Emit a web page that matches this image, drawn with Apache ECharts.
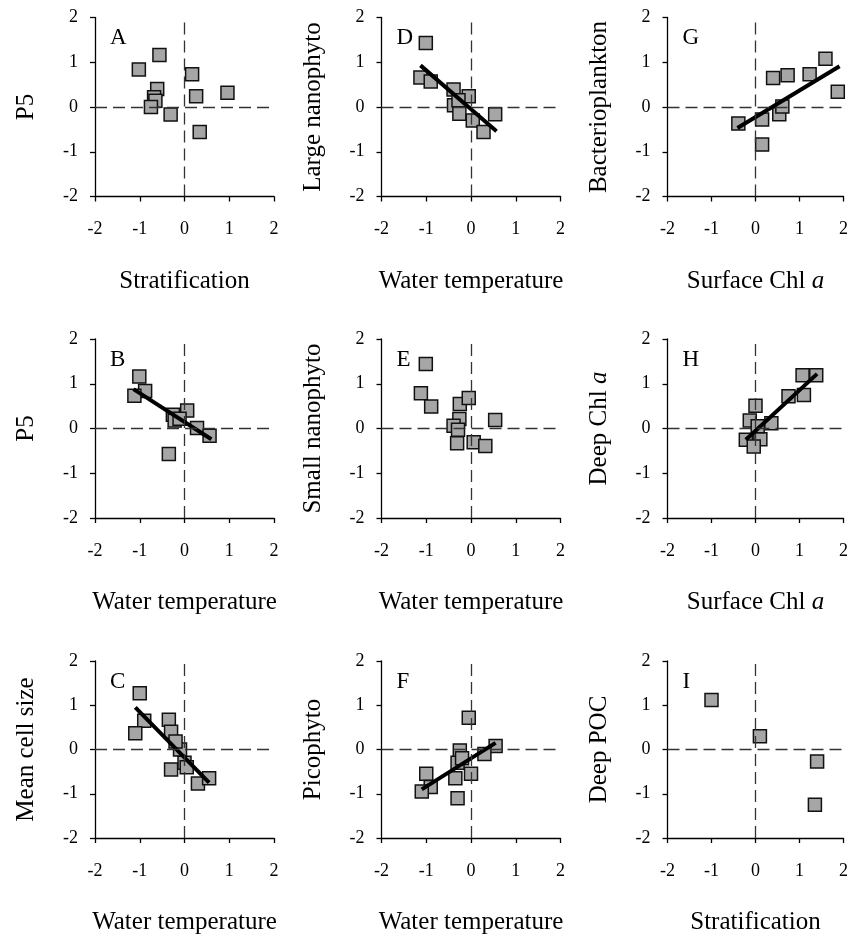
<!DOCTYPE html>
<html><head><meta charset="utf-8">
<script src="https://cdn.jsdelivr.net/npm/echarts@6/dist/echarts.min.js"></script>
<style>html,body{margin:0;padding:0;background:#fff}#c{width:851px;height:936px}</style>
</head><body><div id="c"></div>
<script>
// ---- data ----
const letters = ['A','B','C','D','E','F','G','H','I'];
const xTitles = ['Stratification','Water temperature','Water temperature',
                 'Water temperature','Water temperature','Water temperature',
                 'Surface Chl {i|a}','Surface Chl {i|a}','Stratification'];
const yTitles = ['P5','P5','Mean cell size',
                 'Large nanophyto','Small nanophyto','Picophyto',
                 'Bacterioplankton','Deep Chl {i|a}','Deep POC'];
const axisTicks = [-2, 2, 1]; // min, max, interval

const ptsA = [[-1.02,0.84],[-0.56,1.16],[-0.61,0.40],[-0.68,0.22],[-0.65,0.14],[-0.75,0.00],[-0.31,-0.17],[0.17,0.73],[0.26,0.24],[0.96,0.32],[0.34,-0.56]];
const ptsB = [[-1.01,1.16],[-0.88,0.84],[-1.12,0.73],[-0.26,0.31],[-0.22,0.18],[0.06,0.40],[0.28,0.01],[0.56,-0.16],[-0.35,-0.57],[-0.11,0.22]];
const ptsC = [[-1.00,1.27],[-0.90,0.65],[-1.10,0.37],[-0.35,0.67],[-0.30,0.40],[-0.30,-0.45],[-0.10,0.00],[0.00,-0.30],[0.05,-0.40],[0.30,-0.77],[0.55,-0.65],[-0.20,0.18]];
const ptsD = [[-1.01,1.43],[-1.13,0.66],[-0.90,0.57],[-0.39,0.39],[-0.05,0.24],[-0.38,0.04],[-0.28,0.15],[-0.26,-0.15],[0.04,-0.30],[0.28,-0.56],[0.54,-0.16]];
const ptsE = [[-1.01,1.44],[-1.12,0.79],[-0.89,0.49],[-0.25,0.55],[-0.05,0.68],[-0.26,0.21],[-0.39,0.06],[-0.29,-0.03],[-0.31,-0.33],[0.06,-0.31],[0.32,-0.39],[0.54,0.19]];
const ptsF = [[-0.05,0.72],[0.55,0.08],[0.30,-0.10],[-0.25,-0.02],[-0.30,-0.30],[0.00,-0.55],[-0.35,-0.65],[-0.30,-1.10],[-1.00,-0.55],[-0.90,-0.85],[-1.10,-0.95],[-0.20,-0.20]];
const ptsG = [[-0.39,-0.37],[0.15,-0.28],[0.15,-0.84],[0.40,0.65],[0.73,0.71],[0.54,-0.16],[0.61,0.01],[1.23,0.73],[1.59,1.08],[1.87,0.34]];
const ptsH = [[0.00,0.51],[-0.13,0.18],[0.36,0.12],[0.75,0.72],[1.10,0.75],[1.07,1.19],[1.38,1.19],[-0.22,-0.25],[0.11,-0.24],[-0.04,-0.40],[0.05,0.05]];
const ptsI = [[-1.00,1.12],[0.10,0.30],[1.40,-0.27],[1.35,-1.25]];
const points = [ptsA, ptsB, ptsC, ptsD, ptsE, ptsF, ptsG, ptsH, ptsI];

const fitB = [[-1.14,0.88],[0.60,-0.24]];
const fitC = [[-1.10,0.95],[0.55,-0.75]];
const fitD = [[-1.13,0.93],[0.57,-0.54]];
const fitF = [[-1.10,-0.90],[0.55,0.15]];
const fitG = [[-0.41,-0.47],[1.91,0.91]];
const fitH = [[-0.22,-0.25],[1.40,1.22]];
const fits = [null, fitB, fitC, fitD, null, fitF, fitG, fitH, null];

// ---- layout ----
const FONT = 'Liberation Serif';
const colLeft = [95, 381.5, 667.5];
const rowTop = [17.5, 339, 661];
const W = 179, H = 179;

const grid = [], xAxis = [], yAxis = [], series = [], title = [];
const rich = { i: { fontStyle: 'italic', fontFamily: FONT, fontSize: 25, color: '#000' } };

for (let k = 0; k < 9; k++) {
  const c = Math.floor(k / 3), r = k % 3;
  grid.push({ left: colLeft[c], top: rowTop[r], width: W, height: H });
  const common = {
    gridIndex: k, type: 'value', min: axisTicks[0], max: axisTicks[1], interval: axisTicks[2],
    splitLine: { show: false },
    axisLine: { show: true, onZero: false, lineStyle: { color: '#000', width: 1.3 } },
    axisTick: { show: true, inside: false, length: 5, lineStyle: { color: '#000', width: 1.3 } },
    nameLocation: 'middle',
    nameTextStyle: { fontFamily: FONT, fontSize: 25, color: '#000', rich: rich }
  };
  xAxis.push(Object.assign({}, common, {
    position: 'bottom', name: xTitles[k], nameGap: 72,
    axisLabel: { fontFamily: FONT, fontSize: 18, color: '#000', margin: 24 }
  }));
  yAxis.push(Object.assign({}, common, {
    position: 'left', name: yTitles[k], nameGap: 56,
    axisLabel: { fontFamily: FONT, fontSize: 18, color: '#000', margin: 17 }
  }));
  title.push({ text: letters[k], left: colLeft[c] + 10, top: rowTop[r] + 4,
    textStyle: { fontFamily: FONT, fontSize: 23, fontWeight: 'normal', color: '#000' } });

  // zero reference lines
  series.push({
    type: 'scatter', xAxisIndex: k, yAxisIndex: k, data: [], z: 1, silent: true,
    markLine: {
      silent: true, symbol: ['none', 'none'], label: { show: false },
      lineStyle: { type: [12, 6], color: '#333', width: 1.3 },
      emphasis: { disabled: true },
      data: [{ xAxis: 0 }, { yAxis: 0 }]
    }
  });
  series.push({
    type: 'scatter', xAxisIndex: k, yAxisIndex: k, data: points[k], z: 3,
    symbol: 'rect', symbolSize: 13,
    itemStyle: { color: '#a6a6a6', borderColor: '#111', borderWidth: 1.5, opacity: 1 }
  });
  if (fits[k]) {
    series.push({
      type: 'line', xAxisIndex: k, yAxisIndex: k, data: fits[k], z: 4,
      symbol: 'none', lineStyle: { color: '#000', width: 4 }
    });
  }
}

const chart = echarts.init(document.getElementById('c'), null, { renderer: 'canvas' });
chart.setOption({ animation: false, backgroundColor: '#fff', title, grid, xAxis, yAxis, series });
</script></body></html>
